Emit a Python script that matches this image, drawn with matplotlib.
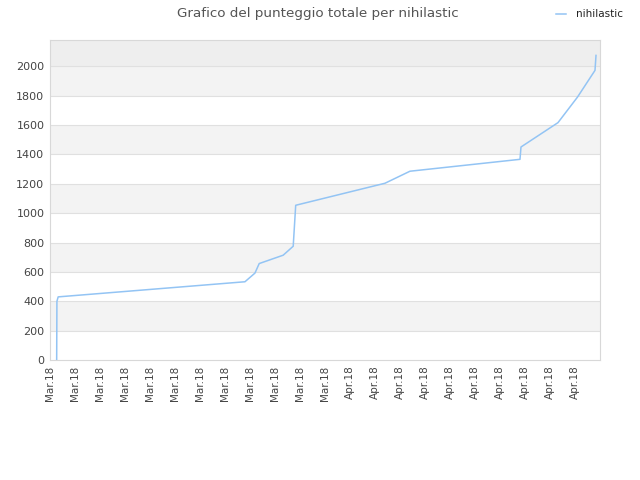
import matplotlib
matplotlib.use('Agg')
import matplotlib.pyplot as plt

# punti (indice tick, punteggio)
giorni = [0.27, 0.28, 0.33, 7.8, 8.2, 8.37, 9.33, 9.73, 9.83, 13.4, 14.4,
          18.8, 18.84, 20.32, 21.1, 21.8, 21.84]
punteggi = [0, 400, 430, 533, 592, 657, 714, 775, 1054, 1204, 1286,
            1367, 1451, 1617, 1791, 1973, 2075]
etichette = ['Mar.18'] * 12 + ['Apr.18'] * 10
yticks = [0, 200, 400, 600, 800, 1000, 1200, 1400, 1600, 1800, 2000]

fig = plt.figure(figsize=(6.4, 4.8), dpi=100)
ax = fig.add_axes([0.078, 0.25, 0.8595, 0.6667])

ymax = 2180
for i, y0 in enumerate(yticks[:-1]):
    if i % 2 == 1:
        ax.axhspan(y0, y0 + 200, color='#f3f3f3', lw=0, zorder=0)
ax.axhspan(2000, ymax, color='#eeeeee', lw=0, zorder=0)
for y in yticks[1:]:
    ax.axhline(y, color='#e0e0e0', lw=0.8, zorder=1)

ax.plot(giorni, punteggi, color='#93c4f4', lw=1.1, label='nihilastic', zorder=3)

ax.set_xlim(0, 22)
ax.set_ylim(0, ymax)
ax.set_xticks(range(len(etichette)))
ax.set_xticklabels(etichette, rotation=90, fontsize=7.5, color='#444444')
ax.set_yticks(yticks)
ax.set_yticklabels([str(v) for v in yticks], fontsize=8, color='#444444')
ax.tick_params(length=0, pad=4)
for s in ax.spines.values():
    s.set_color('#d8d8d8')

fig.suptitle('Grafico del punteggio totale per nihilastic', x=0.497, y=0.985,
             fontsize=9.7, color='#555555')
leg = fig.legend(loc='upper right', bbox_to_anchor=(0.988, 1.0), frameon=False,
                 fontsize=7.5, handlelength=0.9, handletextpad=1.0)
for t in leg.get_texts():
    t.set_color('#222222')

fig.savefig('out.png', dpi=100)
